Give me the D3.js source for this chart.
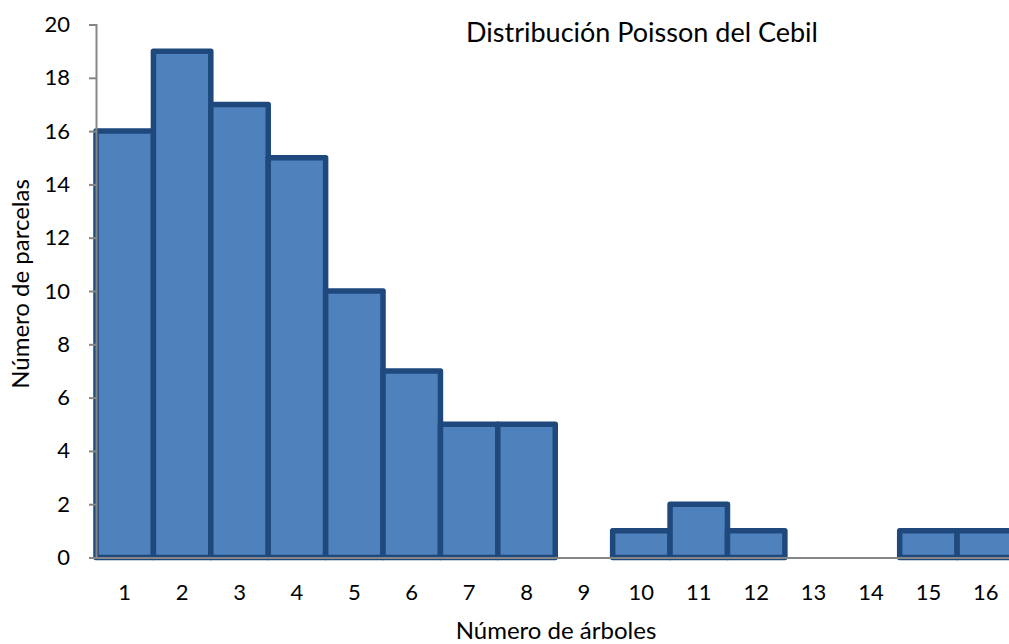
<!DOCTYPE html>
<html>
<head>
<meta charset="utf-8">
<script src="https://cdn.jsdelivr.net/npm/d3@7"></script>
<style>
  body { margin: 0; background: #fff; }
  svg text { font-family: Lato, "Open Sans", sans-serif; fill: #000; }
</style>
</head>
<body>
<svg id="chart" width="1009" height="644"></svg>
<script>
// Data
var categories = ["1", "2", "3", "4", "5", "6", "7", "8", "9", "10", "11", "12", "13", "14", "15", "16"];
var counts = [16, 19, 17, 15, 10, 7, 5, 5, 0, 1, 2, 1, 0, 0, 1, 1];
var yTicks = [0, 2, 4, 6, 8, 10, 12, 14, 16, 18, 20];

var TITLE = "Distribución Poisson del Cebil";
var X_TITLE = "Número de árboles";
var Y_TITLE = "Número de parcelas";

var FILL = "#4f81bd";
var EDGE = "#1f497d";
var AXIS = "#868686";

var svg = d3.select("#chart");

// plot frame (the right side runs a little past the picture, as in the original)
var plotLeft = 96, plotTop = 24.5, plotBottom = 557.5, plotRight = 1014.5;

var x = d3.scaleBand()
  .domain(categories)
  .range([plotLeft, plotRight])
  .padding(0);

var y = d3.scaleLinear()
  .domain([0, 20])
  .range([plotBottom, plotTop]);

// bars
svg.append("g")
  .selectAll("rect")
  .data(counts.map(function (d, i) { return { k: categories[i], v: d }; }).filter(function (d) { return d.v > 0; }))
  .enter().append("rect")
    .attr("x", function (d) { return x(d.k); })
    .attr("y", function (d) { return y(d.v); })
    .attr("width", x.bandwidth())
    .attr("height", function (d) { return y(0) - y(d.v); })
    .attr("fill", FILL)
    .attr("stroke", EDGE)
    .attr("stroke-width", 5.5)
    .attr("stroke-linejoin", "round");

// y axis
var yAxis = svg.append("g")
  .attr("transform", "translate(" + plotLeft + ",0)")
  .call(d3.axisLeft(y).tickValues(yTicks).tickSize(7).tickPadding(19));
yAxis.select(".domain").attr("stroke", AXIS).attr("stroke-width", 2);
yAxis.selectAll(".tick line").attr("stroke", AXIS).attr("stroke-width", 2);
yAxis.selectAll(".tick text")
  .style("font-size", "22px")
  .attr("fill", "#000");

// x axis (line only, labels below)
var xAxis = svg.append("g")
  .attr("transform", "translate(0," + plotBottom + ")")
  .call(d3.axisBottom(x).tickSize(0).tickPadding(27));
xAxis.select(".domain").attr("stroke", AXIS).attr("stroke-width", 2);
xAxis.selectAll(".tick text")
  .style("font-size", "22px")
  .attr("fill", "#000");

// titles
svg.append("text")
  .attr("x", 642)
  .attr("y", 42)
  .attr("text-anchor", "middle")
  .style("font-size", "27px")
  .text(TITLE);

svg.append("text")
  .attr("x", 556)
  .attr("y", 639)
  .attr("text-anchor", "middle")
  .style("font-size", "24px")
  .text(X_TITLE);

svg.append("text")
  .attr("transform", "translate(29,284) rotate(-90)")
  .attr("text-anchor", "middle")
  .style("font-size", "24px")
  .text(Y_TITLE);
</script>
</body>
</html>
